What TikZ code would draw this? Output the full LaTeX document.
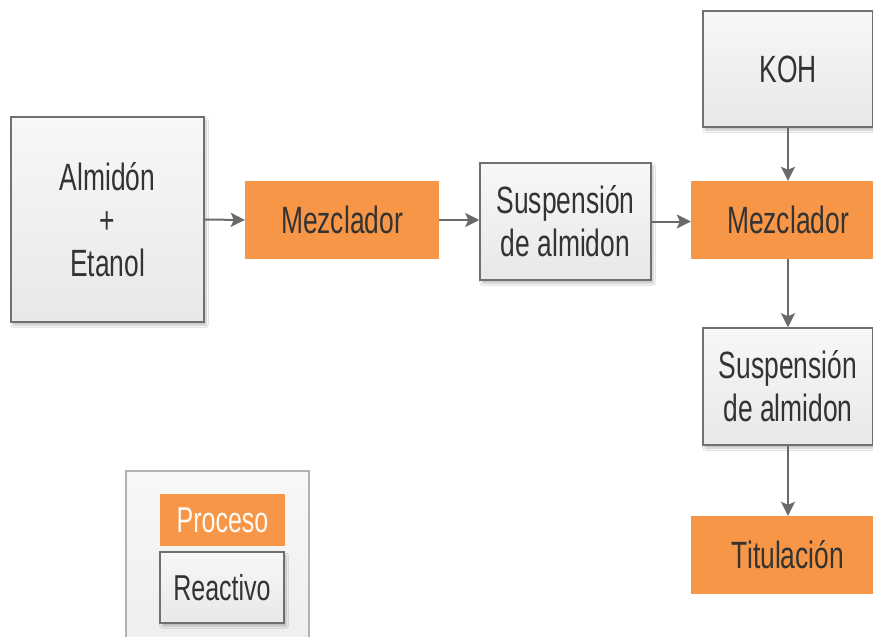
\documentclass[tikz,border=0pt]{standalone}
\usepackage{fontspec}
\setmainfont[FakeStretch=0.695]{Liberation Sans}
\usetikzlibrary{arrows.meta,shadows.blur}
\definecolor{procorange}{HTML}{F79646}
\definecolor{boxedge}{HTML}{707070}
\definecolor{txtgray}{HTML}{333333}
\definecolor{linkgray}{HTML}{6A6A6A}
\tikzset{
  reagent/.style={draw=boxedge, line width=1.5pt, top color=white!97!black,
    bottom color=white!91!black, text=txtgray, align=center, inner sep=0pt,
    font=\fontsize{38}{43}\selectfont,
    blur shadow={shadow xshift=2pt, shadow yshift=-3pt, shadow blur steps=6, shadow opacity=25}},
  process/.style={fill=procorange, draw=none, text=txtgray, align=center, inner sep=0pt,
    font=\fontsize{38}{43}\selectfont},
  link/.style={draw=linkgray, line width=2pt, -{Stealth[length=14pt,width=14pt,inset=3pt]}},
}
\begin{document}
\begin{tikzpicture}[x=1pt,y=-1pt]
\useasboundingbox (0,0) rectangle (873,637);
\clip (0,0) rectangle (873,637);
\fill[white] (0,0) rectangle (873,637);

% main flow
\node[reagent, minimum width=193pt, minimum height=205pt] (feed) at (107.5,219.5) {Almidón\\+\\Etanol};
\node[process, minimum width=194pt, minimum height=78pt] (mix1) at (342,220) {Mezclador};
\node[reagent, minimum width=171pt, minimum height=117pt] (susp1) at (565.5,221.5) {Suspensión\\de almidon};
\node[process, minimum width=194pt, minimum height=78pt] (mix2) at (788,220) {Mezclador};
\node[reagent, minimum width=170pt, minimum height=116pt] (koh) at (788,69) {KOH};
\node[reagent, minimum width=170pt, minimum height=117pt] (susp2) at (788,386.5) {Suspensión\\de almidon};
\node[process, minimum width=194pt, minimum height=78pt] (titr) at (788,555) {Titulación};

\draw[link] (feed.east) -- (mix1.west);
\draw[link] (mix1.east) -- (mix1.east -| susp1.west);
\draw[link] (susp1.east) -- (susp1.east -| mix2.west);
\draw[link] (koh) -- (mix2);
\draw[link] (mix2) -- (susp2);
\draw[link] (susp2) -- (titr);

% legend
\node[draw=white!70!black, line width=1.2pt, top color=white!97!black, bottom color=white!93!black,
  minimum width=183pt, minimum height=200pt, inner sep=0pt] (legend) at (217.5,571) {};
\node[process, text=white!95!procorange, minimum width=125pt, minimum height=52pt,
  font=\fontsize{36}{40}\selectfont] (lproc) at (222.5,520) {Proceso};
\node[reagent, minimum width=124pt, minimum height=71pt,
  font=\fontsize{36}{40}\selectfont] (lreag) at (222,587.5) {Reactivo};
\end{tikzpicture}
\end{document}
